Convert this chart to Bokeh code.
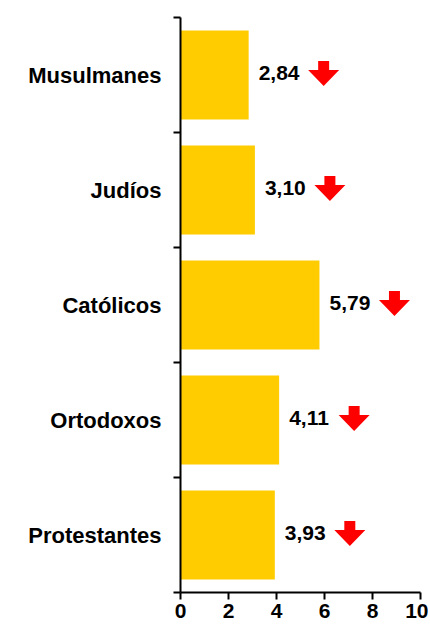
from bokeh.plotting import figure
from bokeh.models import FixedTicker, ColumnDataSource, Range1d
from bokeh.core.properties import value
from bokeh.embed import file_html
from bokeh.resources import INLINE

categories = ["Musulmanes", "Judíos", "Católicos", "Ortodoxos", "Protestantes"]
values = [2.84, 3.10, 5.79, 4.11, 3.93]
x_ticks = [0, 2, 4, 6, 8, 10]

FONT = "Liberation Sans"
BAR = "#FFCC00"
RED = "#FF0000"

n = len(categories)
ypos = [n - 1 - i for i in range(n)]
labels = [f"{v:.2f}".replace(".", ",") for v in values]

FW, FH = 240, 575
p = figure(frame_width=FW, frame_height=FH, output_backend="svg", toolbar_location=None,
           x_range=Range1d(0, 10), y_range=Range1d(-0.5, n - 0.5))
p.min_border_left = 180
p.min_border_top = 17
p.min_border_right = 8
p.min_border_bottom = 10
p.outline_line_color = None
p.xgrid.visible = False
p.ygrid.visible = False
p.background_fill_color = "white"
p.border_fill_color = "white"

src = ColumnDataSource(dict(y=ypos, v=values, lab=labels, cat=categories))
p.hbar(y="y", right="v", left=0, height=0.775, source=src,
       fill_color=BAR, line_color=None)

p.text(x="v", y="y", text="lab", source=src, x_offset=10, y_offset=-2,
       text_font=value(FONT), text_font_style="bold", text_font_size="21px",
       text_color="black", text_align="left", text_baseline="middle")

px_x = FW / 10.0
px_y = FH / float(n)
xs, ys = [], []
for v, y in zip(values, ypos):
    cx = v + 75 / px_x
    hs, hh = 5.5 / px_x, 15.5 / px_x
    top, neck, tip = y + 14 / px_y, y + 5 / px_y, y - 11 / px_y
    xs.append([cx - hs, cx + hs, cx + hs, cx + hh, cx, cx - hh, cx - hs])
    ys.append([top, top, neck, neck, tip, neck, neck])
p.patches(xs, ys, fill_color=RED, line_color=None)

ya = p.yaxis[0]
ya.ticker = FixedTicker(ticks=ypos, minor_ticks=[i - 0.5 for i in range(n + 1)])
ya.major_label_overrides = {y: c for y, c in zip(ypos, categories)}
ya.major_tick_out = 0
ya.major_tick_in = 0
ya.minor_tick_out = 7
ya.minor_tick_in = 0
ya.minor_tick_line_width = 2
ya.minor_tick_line_color = "black"
ya.axis_line_width = 2
ya.axis_line_color = "black"
ya.major_label_standoff = 12
ya.major_label_text_font = FONT
ya.major_label_text_font_style = "bold"
ya.major_label_text_font_size = "22px"
ya.major_label_text_color = "black"

xa = p.xaxis[0]
xa.ticker = FixedTicker(ticks=x_ticks, minor_ticks=[])
xa.major_tick_out = 7
xa.major_tick_in = 0
xa.major_tick_line_width = 2
xa.major_tick_line_color = "black"
xa.axis_line_width = 2
xa.axis_line_color = "black"
xa.major_label_standoff = 4
xa.major_label_text_font = FONT
xa.major_label_text_font_style = "bold"
xa.major_label_text_font_size = "21px"
xa.major_label_text_color = "black"

open("out.html", "w").write(file_html(p, INLINE))
